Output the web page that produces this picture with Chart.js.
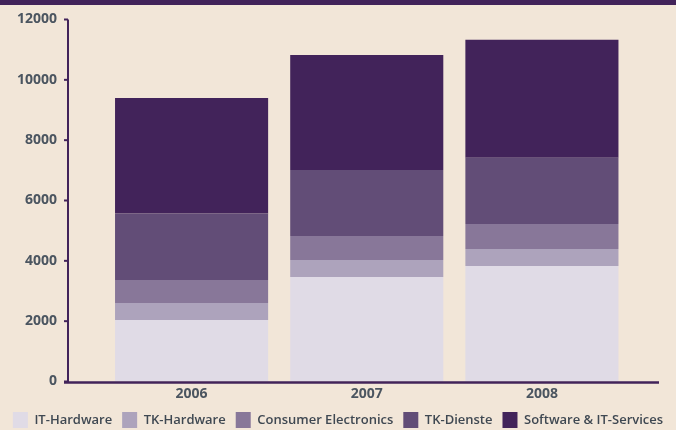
<!DOCTYPE html>
<html>
<head>
<meta charset="utf-8">
<script src="https://cdn.jsdelivr.net/npm/chart.js@4.4.1/dist/chart.umd.min.js"></script>
<style>
  html, body { margin: 0; padding: 0; background: #f2e6d8; }
  #wrap { width: 676px; height: 430px; position: relative; }
</style>
</head>
<body>
<div id="wrap"><canvas id="chart"></canvas></div>
<script>
const years = ['2006', '2007', '2008'];
const itHardware = [2040, 3460, 3830];
const tkHardware = [560, 565, 565];
const consumerElectronics = [765, 795, 830];
const tkDienste = [2200, 2190, 2190];
const softwareServices = [3835, 3810, 3910];
const yTicks = [0, 2000, 4000, 6000, 8000, 10000, 12000];

const axisColor = '#42235a';
const textColor = '#4b5560';

// top band + hand drawn axis lines (axis sits left of the bars)
const decor = {
  id: 'decor',
  beforeDraw(chart) {
    const { ctx, width } = chart;
    ctx.save();
    ctx.fillStyle = axisColor;
    ctx.fillRect(0, 0, width, 5);
    ctx.restore();
  },
  afterDatasetsDraw(chart) {
    const { ctx, chartArea } = chart;
    const y = chart.scales.y;
    const ax = 68;
    ctx.save();
    ctx.strokeStyle = axisColor;
    ctx.lineWidth = 2;
    ctx.beginPath();
    ctx.moveTo(ax, y.getPixelForValue(12000));
    ctx.lineTo(ax, chartArea.bottom + 1);
    ctx.stroke();
    yTicks.forEach(v => {
      const py = y.getPixelForValue(v);
      ctx.beginPath();
      ctx.moveTo(ax - 4, py);
      ctx.lineTo(ax, py);
      ctx.stroke();
    });
    ctx.lineWidth = 2.5;
    ctx.beginPath();
    ctx.moveTo(ax - 4, chartArea.bottom + 1);
    ctx.lineTo(659, chartArea.bottom + 1);
    ctx.stroke();
    ctx.restore();
  }
};

const mk = (label, data, color) => ({
  label, data,
  backgroundColor: color,
  borderWidth: 0,
  barPercentage: 0.874,
  categoryPercentage: 1
});

new Chart(document.getElementById('chart'), {
  type: 'bar',
  data: {
    labels: years,
    datasets: [
      mk('IT-Hardware', itHardware, '#e0dbe6'),
      mk('TK-Hardware', tkHardware, '#ada3bc'),
      mk('Consumer Electronics', consumerElectronics, '#887799'),
      mk('TK-Dienste', tkDienste, '#624d77'),
      mk('Software & IT-Services', softwareServices, '#42235a')
    ]
  },
  options: {
    responsive: true,
    maintainAspectRatio: false,
    animation: false,
    layout: { padding: { top: 19.5, left: 0, right: 0, bottom: -8 } },
    plugins: {
      legend: {
        position: 'bottom',
        labels: {
          boxWidth: 15,
          boxHeight: 16,
          padding: 10,
          color: '#3f4852',
          font: { family: 'Open Sans', size: 13, weight: 600 }
        }
      },
      tooltip: { enabled: false }
    },
    scales: {
      x: {
        stacked: true,
        grid: { display: false, drawTicks: false },
        border: { display: false },
        afterFit(s) { s.height = 20.5; },
        ticks: { color: textColor, padding: 4, font: { family: 'Open Sans', size: 14, weight: 700 } }
      },
      y: {
        stacked: true,
        min: 0, max: 12000,
        afterFit(s) { s.width = 104; s.paddingTop = 0; s.paddingBottom = 0; },
        afterBuildTicks(s) { s.ticks = yTicks.map(v => ({ value: v })); },
        grid: { display: false, drawTicks: false },
        border: { display: false },
        ticks: {
          color: textColor, padding: 47,
          font: { family: 'Open Sans', size: 14, weight: 700 },
          callback: v => String(v)
        }
      },
      yr: {
        position: 'right',
        display: true,
        afterFit(s) { s.width = 46.5; s.paddingTop = 0; s.paddingBottom = 0; },
        grid: { display: false, drawTicks: false },
        border: { display: false },
        ticks: { display: false }
      }
    }
  },
  plugins: [decor]
});
</script>
</body>
</html>
